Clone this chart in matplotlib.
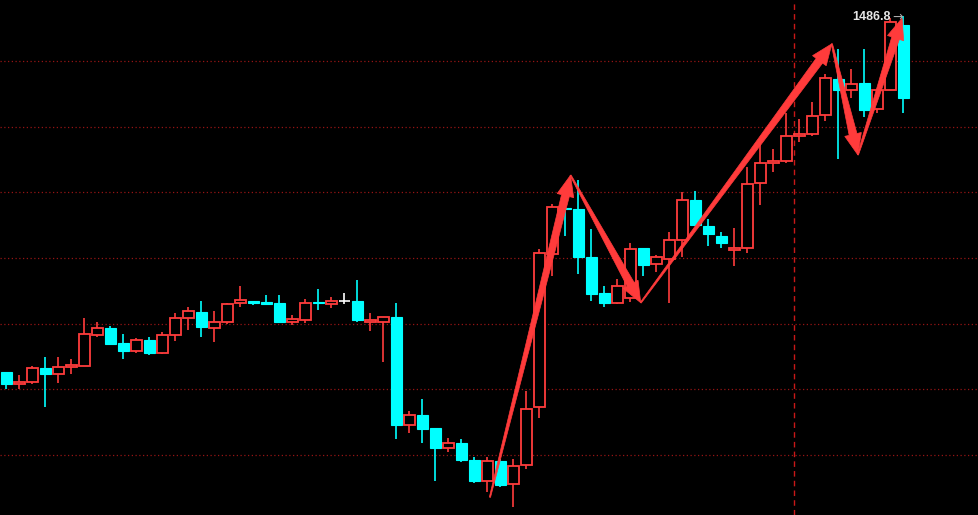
import numpy as np
import matplotlib.pyplot as plt
from matplotlib.patches import Rectangle, Polygon
from matplotlib.transforms import IdentityTransform

# datos de las velas (apertura, maximo, minimo, cierre)
opens = [1432.6, 1430.9, 1431.2, 1433.3, 1432.3, 1433.4, 1433.6, 1438.3, 1439.4, 1437.1,
         1435.9, 1437.5, 1435.6, 1438.3, 1440.9, 1441.8, 1439.3, 1440.2, 1443.1, 1443.5,
         1443.3, 1443.2, 1440.2, 1440.5, 1443.3, 1443.0, 1443.5, 1443.5, 1440.3, 1440.3,
         1441.0, 1424.6, 1426.1, 1424.1, 1421.1, 1421.8, 1419.2, 1416.1, 1419.1, 1415.6,
         1418.5, 1427.3, 1450.6, 1457.6, 1457.5, 1450.2, 1444.7, 1443.1, 1443.9, 1451.5,
         1449.1, 1449.9, 1452.7, 1458.8, 1454.9, 1453.4, 1451.2, 1451.6, 1461.4, 1464.4,
         1464.7, 1468.6, 1468.8, 1471.8, 1477.3, 1475.5, 1476.6, 1472.7, 1475.6, 1485.4]
highs = [1432.7, 1432.2, 1433.6, 1434.9, 1434.9, 1434.6, 1440.9, 1440.3, 1439.7, 1438.4,
         1437.8, 1438.0, 1438.7, 1441.6, 1442.6, 1443.5, 1442.0, 1443.2, 1445.8, 1443.5,
         1444.4, 1444.4, 1441.3, 1443.8, 1445.3, 1444.1, 1444.7, 1446.7, 1441.6, 1441.0,
         1443.2, 1426.7, 1428.6, 1424.1, 1422.6, 1422.5, 1419.7, 1419.7, 1419.4, 1419.4,
         1429.8, 1451.3, 1458.2, 1458.8, 1461.9, 1454.4, 1445.8, 1446.8, 1452.3, 1451.6,
         1450.5, 1454.0, 1460.1, 1460.2, 1456.0, 1454.0, 1454.6, 1463.9, 1467.4, 1466.6,
         1472.1, 1471.2, 1473.8, 1478.0, 1481.8, 1478.8, 1481.8, 1475.7, 1486.5, 1486.8]
lows = [1430.1, 1430.1, 1430.9, 1427.4, 1431.0, 1432.3, 1433.5, 1438.0, 1436.7, 1434.6,
        1435.6, 1435.3, 1435.4, 1437.4, 1439.1, 1438.0, 1437.2, 1440.0, 1442.6, 1442.9,
        1442.9, 1440.1, 1439.8, 1440.1, 1442.1, 1442.4, 1443.0, 1440.2, 1438.9, 1434.2,
        1422.4, 1423.4, 1421.9, 1416.1, 1420.5, 1419.0, 1415.8, 1414.4, 1415.2, 1412.1,
        1417.9, 1425.6, 1447.2, 1453.4, 1447.5, 1443.4, 1442.5, 1443.0, 1443.3, 1447.2,
        1447.8, 1443.1, 1450.2, 1454.9, 1451.9, 1451.6, 1448.8, 1450.7, 1458.0, 1463.1,
        1464.5, 1467.6, 1468.5, 1470.8, 1465.0, 1474.4, 1471.5, 1472.0, 1475.5, 1472.0]
closes = [1430.9, 1431.2, 1433.3, 1432.3, 1433.4, 1433.7, 1438.4, 1439.4, 1436.9, 1435.9,
          1437.5, 1435.6, 1438.3, 1440.9, 1442.0, 1439.5, 1440.3, 1443.0, 1443.6, 1443.2,
          1443.0, 1440.3, 1440.7, 1443.2, 1443.1, 1443.5, 1443.5, 1440.5, 1440.6, 1441.0,
          1424.6, 1426.1, 1424.0, 1421.1, 1421.8, 1419.2, 1416.1, 1419.1, 1415.4, 1418.4,
          1427.1, 1450.7, 1457.7, 1457.4, 1450.1, 1444.6, 1443.1, 1445.7, 1451.3, 1449.0,
          1450.1, 1452.7, 1458.8, 1455.1, 1453.6, 1452.3, 1451.6, 1461.3, 1464.4, 1464.7,
          1468.6, 1468.9, 1471.6, 1477.4, 1475.6, 1476.5, 1472.6, 1475.6, 1485.9, 1474.4]

# niveles de la cuadricula y linea vertical
grid_levels = [1480, 1470, 1460, 1450, 1440, 1430, 1420]
vline_idx = 60.6

# zigzag dibujado con flechas (indice de vela, precio)
zz_x = [37.2, 43.4, 48.8, 63.5, 65.5, 68.9]
zz_y = [1413.6, 1462.6, 1443.2, 1482.6, 1465.7, 1486.5]

up_col = '#ff3c3c'
dn_col = '#00ffff'
arrow_col = '#ff3b3b'

fig = plt.figure(figsize=(9.781, 5.151), dpi=100, facecolor='black')
ax = fig.add_axes([0, 0, 1, 1])
ax.set_facecolor('black')
ax.set_xlim(-0.485, 74.75)
ax.set_ylim(1410.9, 1489.28)
ax.axis('off')

for g in grid_levels:
    ax.axhline(g, color='#951414', lw=0.9, linestyle=(0, (1, 2)), zorder=1)
ax.axvline(vline_idx, color='#c81818', lw=1.0, linestyle=(0, (4, 3)), zorder=1)

w = 0.8
for i in range(len(opens)):
    o, h, l, c = opens[i], highs[i], lows[i], closes[i]
    if c > o:
        col = up_col
    elif c < o:
        col = dn_col
    else:
        col = 'white'
    top = max(o, c)
    bot = min(o, c)
    ax.vlines(i, top, h, color=col, lw=1.2, zorder=2)
    ax.vlines(i, l, bot, color=col, lw=1.2, zorder=2)
    if c > o:
        ax.add_patch(Rectangle((i - w / 2, bot), w, top - bot, facecolor='black',
                               edgecolor=col, lw=1.3, zorder=3))
    elif c < o:
        ax.add_patch(Rectangle((i - w / 2, bot), w, top - bot, facecolor=col,
                               edgecolor=col, lw=0.8, zorder=3))
    else:
        ax.hlines(o, i - w / 2, i + w / 2, color=col, lw=1.2, zorder=3)

# flechas que se ensanchan hacia la punta
def flecha(p0, p1, w_tail=8, w_head=17, l_head=21):
    a = ax.transData.transform(p0)
    b = ax.transData.transform(p1)
    d = b - a
    L = np.hypot(d[0], d[1])
    u = d / L
    n = np.array([-u[1], u[0]])
    base = b - u * l_head
    pts = [a + n * 0.6, base + n * w_tail / 2, base + n * w_head / 2, b,
           base - n * w_head / 2, base - n * w_tail / 2, a - n * 0.6]
    ax.add_patch(Polygon(pts, closed=True, facecolor=arrow_col, edgecolor=arrow_col,
                         lw=0.5, transform=IdentityTransform(), zorder=5))

fig.canvas.draw()
for k in range(len(zz_x) - 1):
    flecha((zz_x[k], zz_y[k]), (zz_x[k + 1], zz_y[k + 1]))

# etiqueta del maximo
imax = int(np.argmax(highs))
hmax = highs[imax]
ax.annotate(f'{hmax}', xy=(imax, hmax), xytext=(-13, -1), textcoords='offset pixels',
            ha='right', va='center', color='#e6e6e6', fontsize=9, fontweight='bold',
            family=['Liberation Sans', 'DejaVu Sans'], zorder=6)
ax.annotate('→', xy=(imax, hmax), xytext=(-11, -1), textcoords='offset pixels',
            ha='left', va='center', color='#aaaaaa', fontsize=9,
            family=['DejaVu Sans'], zorder=6)

plt.savefig('out.png', dpi=100, facecolor='black')
